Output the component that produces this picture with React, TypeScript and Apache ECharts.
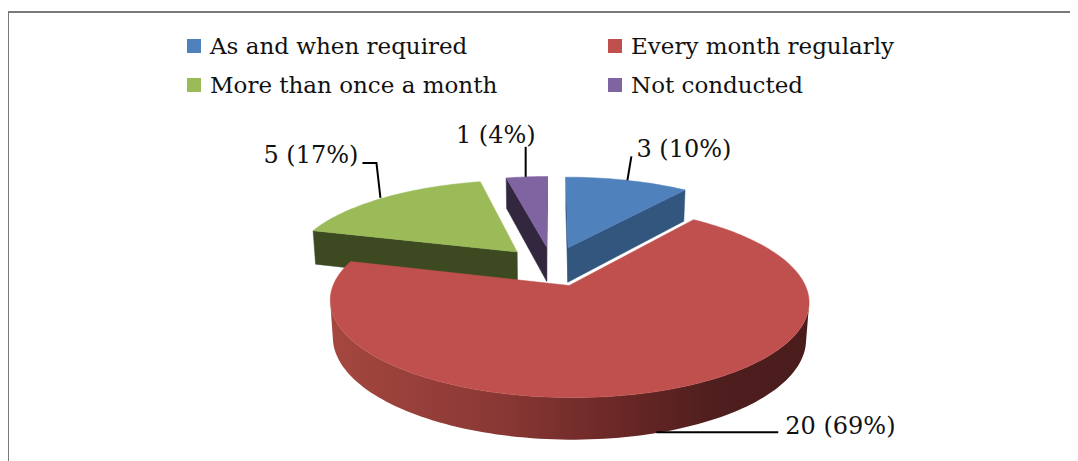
import React, { useEffect, useRef } from "react";
import * as echarts from "echarts";

// ---- data ----
const categories = [
  "As and when required",
  "Every month regularly",
  "More than once a month",
  "Not conducted",
];
const counts = [3, 20, 5, 1];
const percents = [10, 69, 17, 4];

// ---- styles ----
const topColors = ["#4f81bd", "#c0504d", "#9bbb59", "#8064a2"];
const faceColors = ["#33567f", "#7a2e2c", "#3d4a21", "#33263f"];
const wallStops: [number, string][][] = [
  [[0, "#3b6190"], [1, "#2c4a6e"]],
  [[0, "#a5473f"], [0.35, "#8a3835"], [0.6, "#6a2826"], [0.8, "#4f1e1e"], [1, "#4a1c1c"]],
  [[0, "#4d5d29"], [1, "#35411c"]],
  [[0, "#3d2e4e"], [1, "#2c2138"]],
];
const FONT = "DejaVu Serif";

// page offset compensation (container sits inside the body margin)
const OFF = -8;

// ---- 3D view geometry ----
const CX = 552 + OFF;
const CY = 266 + OFF;
const DIST = 5.79;
const FOCAL = 1320;
const ALPHA = (22.5 * Math.PI) / 180;
const THICK = 0.17;
const EXPLODE = 0.228;

// leader line / label placement relative to anchor point
const labelLayouts = [
  { anchor: "top", line: [[0, 0], [4, -24]], text: [9, -31], align: "left" },
  { anchor: "bottom", line: [[-4, 0], [118, 0]], text: [125, -6], align: "left" },
  { anchor: "top", line: [[-3, 0], [-7, -35], [-21, -35]], text: [-25, -43], align: "right" },
  { anchor: "top", line: [[-1, 0], [-1, -30]], text: [9, -42], align: "right" },
];

function makeRenderItem(i: number) {
  return (params: any, api: any) => {
    const total = counts.reduce((a, b) => a + b, 0);
    let start = 0;
    for (let k = 0; k < i; k++) start += counts[k];
    const v = api.value(0);
    const a0 = (start / total) * Math.PI * 2;
    const a1 = ((start + v) / total) * Math.PI * 2;
    const mid = (a0 + a1) / 2;
    const ox = EXPLODE * Math.sin(mid);
    const oy = -EXPLODE * Math.cos(mid);
    const sinA = Math.sin(ALPHA);
    const cosA = Math.cos(ALPHA);
    const proj = (X: number, Y: number, Z: number) => {
      const yUp = -Y * sinA + Z * cosA;
      const d = DIST - (Y * cosA + Z * sinA);
      return [CX + (FOCAL * X) / d, CY - (FOCAL * yUp) / d];
    };
    const rim = (t: number, z: number) => proj(ox + Math.sin(t), oy - Math.cos(t), z);
    const camY = DIST * cosA;
    const base = Math.round((oy + 1) * 100) * 10;
    const children: any[] = [];

    // outer wall (visible runs only)
    const N = Math.max(4, Math.ceil(((a1 - a0) / (Math.PI * 2)) * 240));
    const runs: number[][] = [];
    let run: number[] = [];
    for (let k = 0; k < N; k++) {
      const t0 = a0 + ((a1 - a0) * k) / N;
      const t1 = a0 + ((a1 - a0) * (k + 1)) / N;
      const tm = (t0 + t1) / 2;
      const nx = Math.sin(tm);
      const ny = -Math.cos(tm);
      const px = ox + nx;
      const py = oy + ny;
      const dot = (0 - px) * nx + (camY - py) * ny;
      if (dot > 0) {
        if (!run.length) run.push(t0);
        run.push(t1);
      } else if (run.length) {
        runs.push(run);
        run = [];
      }
    }
    if (run.length) runs.push(run);
    runs.forEach((r) => {
      const pts: number[][] = [];
      r.forEach((t) => pts.push(rim(t, 0)));
      for (let k = r.length - 1; k >= 0; k--) pts.push(rim(r[k], -THICK));
      children.push({
        type: "polygon",
        z2: base,
        shape: { points: pts },
        style: {
          fill: new echarts.graphic.LinearGradient(
            0, 0, 1, 0,
            wallStops[i].map(([o, c]) => ({ offset: o, color: c }))
          ),
          stroke: null,
        },
      });
    });

    // radial cut faces
    const radial = (t: number, sign: number) => {
      const nx = sign * Math.cos(t);
      const ny = sign * Math.sin(t);
      const dot = (0 - ox) * nx + (camY - oy) * ny;
      if (dot <= 0) return;
      const pts = [proj(ox, oy, 0), rim(t, 0), rim(t, -THICK), proj(ox, oy, -THICK)];
      children.push({
        type: "polygon",
        z2: base + 1,
        shape: { points: pts },
        style: { fill: faceColors[i], stroke: faceColors[i], lineWidth: 0.5 },
      });
    };
    radial(a0, -1);
    radial(a1, 1);

    // top face
    const topPts: number[][] = [proj(ox, oy, 0)];
    for (let k = 0; k <= N; k++) topPts.push(rim(a0 + ((a1 - a0) * k) / N, 0));
    children.push({
      type: "polygon",
      z2: base + 5,
      shape: { points: topPts },
      style: { fill: topColors[i], stroke: topColors[i], lineWidth: 0.5 },
    });

    // label with leader line
    const lay = labelLayouts[i];
    const anchor = lay.anchor === "top" ? rim(mid, 0) : rim(mid, -THICK);
    const linePts = lay.line.map(([dx, dy]) => [anchor[0] + dx, anchor[1] + dy]);
    children.push({
      type: "polyline",
      z2: 5000,
      shape: { points: linePts },
      style: { stroke: "#000", lineWidth: 2, fill: null },
    });
    children.push({
      type: "text",
      z2: 5001,
      style: {
        text: `${counts[i]} (${percents[i]}%)`,
        x: anchor[0] + lay.text[0],
        y: anchor[1] + lay.text[1],
        fill: "#111",
        fontFamily: FONT,
        fontSize: 24,
        align: lay.align,
        verticalAlign: "middle",
      },
    });

    return { type: "group", children };
  };
}

const legendPos = [
  { left: 187 + OFF, top: 34 + OFF },
  { left: 608 + OFF, top: 34 + OFF },
  { left: 187 + OFF, top: 73 + OFF },
  { left: 608 + OFF, top: 73 + OFF },
];

export default function App() {
  const ref = useRef<HTMLDivElement>(null);
  useEffect(() => {
    if (!ref.current) return;
    const chart = echarts.init(ref.current, null, { renderer: "svg" });
    chart.setOption({
      animation: false,
      backgroundColor: "#ffffff",
      tooltip: { show: false },
      legend: categories.map((name, i) => ({
        data: [{ name, itemStyle: { color: topColors[i] } }],
        left: legendPos[i].left,
        top: legendPos[i].top,
        orient: "horizontal",
        padding: 0,
        itemWidth: 14,
        itemHeight: 14,
        icon: "rect",
        selectedMode: false,
        textStyle: {
          fontFamily: FONT,
          fontSize: 23,
          color: "#111",
          lineHeight: 24,
          padding: [0, 0, 0, 4],
        },
      })),
      graphic: [
        {
          type: "rect",
          silent: true,
          shape: { x: 8 + OFF, y: 12 + OFF, width: 1200, height: 700 },
          style: { fill: "none", stroke: "#7a7a7a", lineWidth: 2 },
        },
      ],
      series: categories.map((name, i) => ({
        type: "custom",
        name,
        coordinateSystem: "none",
        silent: true,
        itemStyle: { color: topColors[i] },
        data: [[counts[i]]],
        renderItem: makeRenderItem(i),
      })),
    });
    return () => chart.dispose();
  }, []);
  return <div ref={ref} style={{ width: 1078, height: 461 }} />;
}
